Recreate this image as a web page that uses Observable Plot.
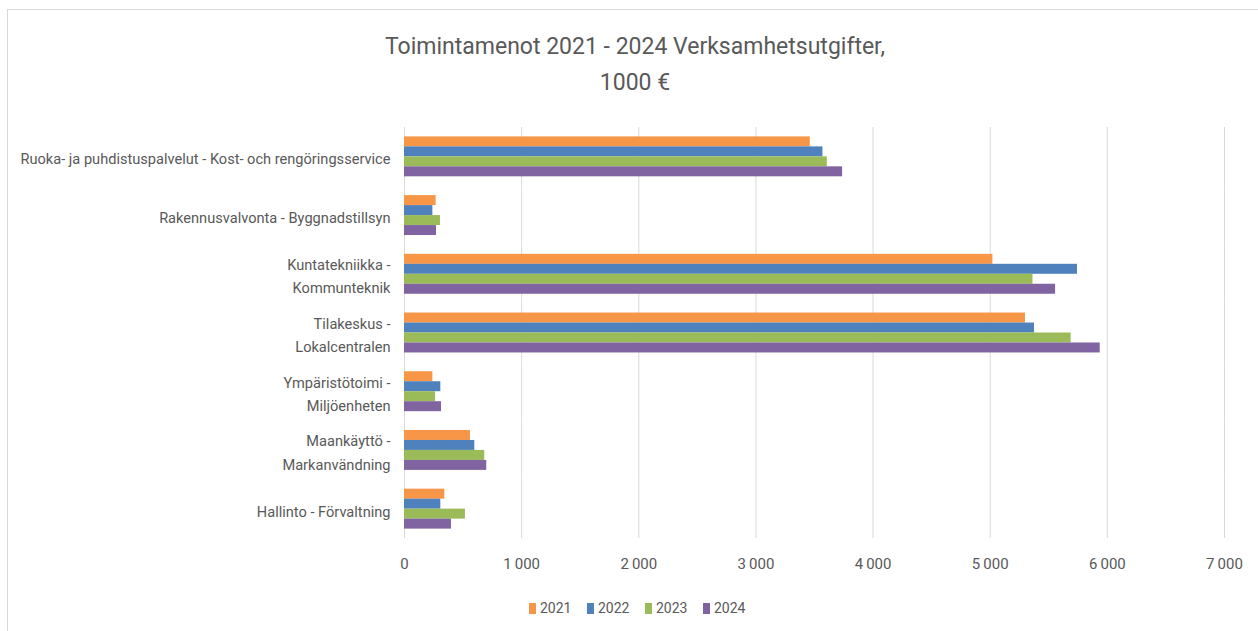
<!DOCTYPE html>
<html>
<head>
<meta charset="utf-8">
<script src="https://cdn.jsdelivr.net/npm/d3@7"></script>
<script src="https://cdn.jsdelivr.net/npm/@observablehq/plot@0.6"></script>
<style>
  html, body { margin: 0; padding: 0; background: #fff; overflow: hidden; width: 1258px; height: 631px; }
  body { position: relative; font-family: "Roboto", "Liberation Sans", sans-serif; color: #595959; }
  #frame { position: absolute; left: 7px; top: 9px; width: 1400px; height: 800px; border: 1px solid #d9d9d9; }
  .title { position: absolute; left: 0; width: 1270px; text-align: center; font-size: 23px; line-height: 36px; }
  #chart { position: absolute; left: 0; top: 110px; }
  #legend { position: absolute; left: 0; top: 598px; width: 1258px; height: 20px; font-size: 14px; line-height: 20px; }
  .item { position: absolute; top: 0; height: 20px; display: flex; align-items: center; white-space: nowrap; }
  .sw { flex: 0 0 auto; width: 7px; height: 11px; margin-right: 4px; }
</style>
</head>
<body>
<div id="frame"></div>
<div class="title" style="top:29px">Toimintamenot 2021 - 2024 Verksamhetsutgifter,</div>
<div class="title" style="top:65px">1000 €</div>
<div id="chart"></div>
<div id="legend"></div>
<script>
const categories = [
  "Ruoka- ja puhdistuspalvelut - Kost- och rengöringsservice",
  "Rakennusvalvonta - Byggnadstillsyn",
  "Kuntatekniikka -\nKommunteknik",
  "Tilakeskus -\nLokalcentralen",
  "Ympäristötoimi -\nMiljöenheten",
  "Maankäyttö -\nMarkanvändning",
  "Hallinto - Förvaltning"
];
const years = ["2021", "2022", "2023", "2024"];
const v2021 = [3464, 270, 5023, 5301, 242, 563, 344];
const v2022 = [3572, 242, 5745, 5378, 310, 600, 310];
const v2023 = [3609, 307, 5365, 5691, 265, 685, 520];
const v2024 = [3740, 273, 5558, 5939, 316, 702, 401];
const xTicks = [0, 1000, 2000, 3000, 4000, 5000, 6000, 7000];
const colors = ["#F79646", "#4F81BD", "#9BBB59", "#8064A2"];

const series = [v2021, v2022, v2023, v2024];
const data = [];
categories.forEach((c, i) => {
  years.forEach((y, j) => data.push({category: c, year: y, value: series[j][i]}));
});

const fmt = n => d3.format(",")(n).replace(/,/g, "\u2009");
const font = '"Roboto", "Liberation Sans", sans-serif';

const chart = Plot.plot({
  width: 1258,
  height: 468,
  marginLeft: 404,
  marginRight: 34,
  marginTop: 17,
  marginBottom: 40,
  style: {fontFamily: font, fontSize: "14.6px", color: "#595959", background: "transparent", overflow: "visible"},
  x: {domain: [0, 7000], axis: null},
  fy: {domain: categories, paddingInner: 0.32, paddingOuter: 0.16, round: false, axis: null},
  y: {domain: years, padding: 0, round: false, axis: null},
  color: {domain: years, range: colors},
  marks: [
    Plot.ruleX(xTicks, {stroke: "#d9d9d9", strokeWidth: 1, strokeOpacity: 1, insetTop: -9.4, insetBottom: -9.4}),
    Plot.barX(data, {x: "value", y: "year", fy: "category", fill: "year", inset: 0}),
    Plot.axisFy({anchor: "left", tickSize: 0, tickPadding: 14, lineHeight: 1.6, fontSize: 14.6, fill: "#595959", label: null}),
    Plot.axisX({ticks: xTicks, tickFormat: fmt, tickSize: 0, tickPadding: 29, fontSize: 15, fill: "#595959", label: null})
  ]
});
document.getElementById("chart").appendChild(chart);

const legend = document.getElementById("legend");
years.forEach((y, i) => {
  const it = document.createElement("div");
  it.className = "item";
  it.style.left = (529 + 58 * i) + "px";
  const sw = document.createElement("span");
  sw.className = "sw";
  sw.style.background = colors[i];
  const t = document.createElement("span");
  t.textContent = y;
  it.appendChild(sw);
  it.appendChild(t);
  legend.appendChild(it);
});
</script>
</body>
</html>
